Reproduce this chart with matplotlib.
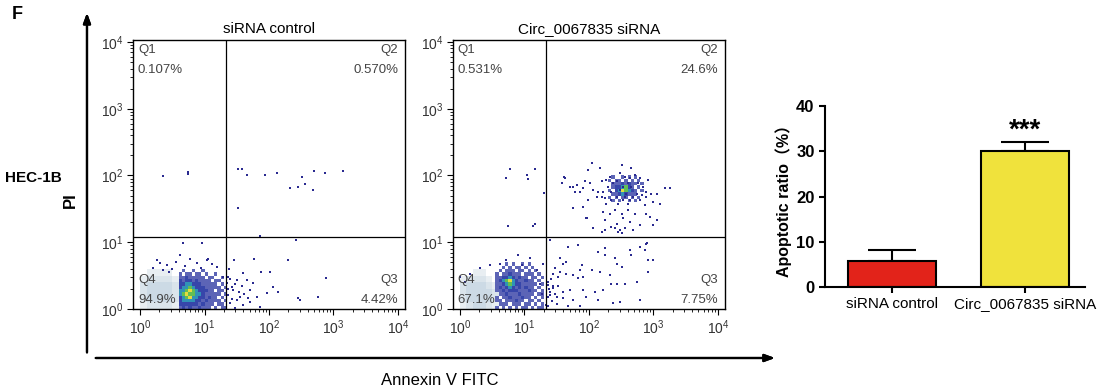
import numpy as np
import matplotlib.pyplot as plt
from matplotlib.colors import ListedColormap, BoundaryNorm
from matplotlib.ticker import FixedLocator, NullFormatter

plt.rcParams['font.family'] = ['Liberation Sans', 'DejaVu Sans']
plt.rcParams['mathtext.default'] = 'regular'

# ---- flow cytometry data (all values are log10 of intensity) ----
panel_titles = ['siRNA control', 'Circ_0067835 siRNA']
quad_pct = [['0.107%', '0.570%', '4.42%', '94.9%'],
            ['0.531%', '24.6%', '7.75%', '67.1%']]
gate_x = 1.33
gate_y = 1.08

# dense core, 0.05-decade bins, rows listed top -> bottom
ctrl_dense_origin = (0.60, 0.00)
ctrl_dense = ["010010010000000",
              "101101101001000",
              "112111110110010",
              "212212111101100",
              "223322211111010",
              "233432221111101",
              "334543222110110",
              "345443321111101",
              "234533221211010",
              "233332212111101",
              "222222121110110",
              "121211211101011"]

# faint smear at the left edge, 0.1-decade bins, rows top -> bottom
ctrl_pale_origin = (0.00, 0.00)
ctrl_pale = ["011110",
             "122221",
             "233332",
             "233332",
             "233332",
             "122221"]

ctrl_dots_x = [0.36, 0.74, 0.74,
               1.52, 1.58, 1.66, 1.94, 2.12, 2.33, 2.45, 2.51, 2.56, 2.68, 2.70, 2.87, 3.15, 1.52, 1.86, 2.42,
               2.29, 1.77, 2.88, 2.76, 2.45, 2.48, 2.02, 1.88, 2.06, 2.14, 1.97,
               1.46, 1.36, 1.50, 1.60, 1.66, 1.75, 1.71, 1.44, 1.55, 1.81, 1.40, 1.60, 1.86, 1.43, 1.36, 1.50,
               1.67, 1.35, 1.38, 1.42, 1.39, 1.47, 1.53, 1.58, 1.62, 1.70, 1.48, 1.37,
               0.31, 0.42, 0.62, 0.88, 1.04, 1.19, 1.29, 0.67, 0.96, 0.26, 0.78, 1.05, 0.50, 0.55, 0.70, 0.95,
               1.12, 0.20, 0.35, 0.45]
ctrl_dots_y = [1.99, 2.02, 2.05,
               2.10, 2.10, 2.01, 2.01, 2.04, 1.81, 1.83, 1.98, 1.87, 1.78, 2.07, 2.04, 2.07, 1.51, 1.09, 1.03,
               0.73, 0.75, 0.46, 0.18, 0.16, 0.13, 0.55, 0.55, 0.33, 0.25, 0.24,
               0.73, 0.48, 0.43, 0.54, 0.43, 0.39, 0.28, 0.28, 0.18, 0.18, 0.09, 0.06, 0.03, 0.33, 0.21, 0.13,
               0.16, 0.39, 0.60, 0.15, 0.45, 0.38, 0.25, 0.35, 0.22, 0.10, 0.02, 0.30,
               0.69, 0.66, 0.81, 0.69, 0.73, 0.63, 0.48, 0.99, 0.99, 0.73, 0.75, 0.75, 0.60, 0.70, 0.64, 0.62,
               0.68, 0.62, 0.58, 0.56]

si_dense_origin = (0.55, 0.00)
si_dense = ["000101001010000",
            "001010110101000",
            "010111011010100",
            "101121110111010",
            "112232121101101",
            "123453211211010",
            "112343221111101",
            "121232121211010",
            "112122211121101",
            "011211121111011",
            "101121112110101",
            "110111211011010",
            "011101110110101",
            "101010101101011"]

si_pale_origin = (0.00, 0.00)
si_pale = ["001100",
           "122210",
           "233321",
           "233332",
           "233332",
           "123321"]

# Q2 cluster core, 0.05-decade bins, rows top -> bottom
si_q2_origin = (2.30, 1.60)
si_q2 = ["01001010100",
         "10110101010",
         "01112121101",
         "01223421010",
         "10235432101",
         "01123211100",
         "10101101010",
         "01010010100"]

si_dots_x = [0.78, 0.71, 1.04, 1.05, 1.16, 0.74, 1.13, 1.16, 1.30,
             2.04, 2.51, 2.66, 1.99, 2.17, 1.63, 1.58, 1.71, 1.81, 1.86, 1.94, 2.02, 2.07, 2.12, 2.20, 2.27,
             2.33, 2.30, 2.38, 2.43, 2.48, 2.56, 2.64, 2.71, 2.79, 2.76, 2.84, 2.89, 2.97, 2.92, 3.05, 3.18,
             3.26, 3.10, 3.00, 2.87, 2.79, 2.69, 2.61, 2.53, 2.45, 2.35, 2.27, 2.20, 2.22, 2.33, 2.40, 2.51,
             2.61, 2.71, 2.89, 3.05, 3.00, 2.79, 2.64, 2.53, 2.43, 2.35, 2.48, 2.45, 2.51, 2.40, 2.56, 2.20,
             2.07, 1.96, 1.76, 1.91, 1.99, 2.25, 2.69, 2.95, 1.78, 1.91, 2.14, 2.22, 2.35, 2.58, 2.74, 2.82,
             2.89, 2.53, 2.66, 2.61, 2.48, 2.25, 2.43, 2.56, 2.64, 1.61, 1.75, 1.91, 1.97, 2.25,
             1.40, 1.68, 1.83, 2.14, 2.25, 2.25, 2.64, 2.66, 2.79, 2.89, 2.92, 3.00, 2.40, 2.43, 2.51, 2.92,
             1.55, 1.60, 1.65, 1.47, 1.55, 1.45, 1.52, 1.65, 1.76, 1.86, 1.83, 1.89, 1.91, 2.04, 2.17, 2.33,
             2.35, 2.43, 2.56, 2.74, 1.37, 1.45, 1.52, 1.60, 1.71, 1.91, 2.09, 2.22, 1.40, 1.50, 1.60, 1.76,
             1.96, 2.14, 2.38, 2.48, 2.79, 1.34, 1.68, 1.86, 2.90, 2.87, 2.99, 2.79,
             1.36, 1.38, 1.40, 1.42, 1.37, 1.45, 1.50, 1.36, 1.41, 1.47,
             0.90, 1.09, 0.72, 0.47, 0.31, 0.16, 1.29, 1.19, 0.62, 0.96, 1.24, 1.27, 0.08, 0.00]
si_dots_y = [2.10, 1.96, 2.01, 1.95, 2.10, 1.24, 1.24, 1.27, 1.74,
             2.18, 2.16, 2.11, 2.08, 2.11, 1.96, 1.88, 1.83, 1.86, 1.76, 1.91, 1.88, 1.78, 1.68, 1.91, 1.93,
             1.98, 1.83, 1.88, 1.91, 2.03, 1.98, 1.96, 2.01, 1.96, 1.88, 1.83, 1.76, 1.73, 1.93, 1.73, 1.81,
             1.81, 1.58, 1.61, 1.56, 1.63, 1.68, 1.58, 1.63, 1.58, 1.63, 1.58, 1.68, 1.46, 1.43, 1.48, 1.43,
             1.48, 1.43, 1.43, 1.33, 1.26, 1.26, 1.31, 1.36, 1.28, 1.23, 1.18, 1.16, 1.14, 1.21, 1.21, 1.16,
             1.21, 1.36, 1.51, 1.53, 1.63, 1.33, 1.18, 1.38, 1.76, 1.81, 1.76, 1.76, 1.76, 1.73, 1.73, 1.71,
             1.68, 1.83, 1.83, 1.88, 1.78, 1.66, 1.68, 1.68, 1.63, 1.98, 1.83, 1.53, 1.36, 1.18,
             1.03, 0.93, 0.96, 0.86, 0.91, 0.81, 0.88, 0.81, 0.93, 0.98, 0.73, 0.73, 0.76, 0.68, 0.63, 0.56,
             0.76, 0.68, 0.71, 0.61, 0.56, 0.53, 0.48, 0.53, 0.51, 0.58, 0.46, 0.66, 0.48, 0.58, 0.56, 0.51,
             0.38, 0.38, 0.38, 0.41, 0.36, 0.31, 0.34, 0.26, 0.29, 0.29, 0.26, 0.29, 0.21, 0.18, 0.16, 0.14,
             0.18, 0.14, 0.09, 0.11, 0.14, 0.06, 0.04, 0.05, 0.99, 0.88, 0.73, 0.13,
             0.40, 0.30, 0.25, 0.12, 0.18, 0.35, 0.08, 0.05, 0.45, 0.22,
             0.81, 0.76, 0.73, 0.66, 0.61, 0.53, 0.68, 0.58, 0.68, 0.66, 0.38, 0.23, 0.41, 0.48]

# ---- bar chart data ----
bar_labels = ['siRNA control', 'Circ_0067835 siRNA']
bar_values = [5.7, 30.0]
bar_errors = [2.5, 2.0]
bar_colors = ['#e2231a', '#f0e23c']

# colours are the blend of the speckled dots with the white background
dense_cmap = ListedColormap(['#5c64b6', '#3746aa', '#3192b6', '#62be54', '#e4da40'])
dense_norm = BoundaryNorm([0.5, 1.5, 2.5, 3.5, 4.5, 5.5], 5)
pale_cmap = ListedColormap(['#e8eef2', '#dae4eb', '#ccdae5'])
pale_norm = BoundaryNorm([0.5, 1.5, 2.5, 3.5], 3)


def draw_grid(ax, rows, origin, step, cmap, norm, z):
    arr = np.array([[int(c) for c in r] for r in rows[::-1]])
    xe = 10 ** (origin[0] + step * np.arange(arr.shape[1] + 1))
    ye = 10 ** (origin[1] + step * np.arange(arr.shape[0] + 1))
    ax.pcolormesh(xe, ye, np.ma.masked_equal(arr, 0), cmap=cmap, norm=norm,
                  edgecolors='none', zorder=z)


fig = plt.figure(figsize=(11.11, 3.89), dpi=100)

panels = [
    (0.1197, ctrl_pale, ctrl_pale_origin, [(ctrl_dense, ctrl_dense_origin)], ctrl_dots_x, ctrl_dots_y),
    (0.4077, si_pale, si_pale_origin, [(si_dense, si_dense_origin), (si_q2, si_q2_origin)], si_dots_x, si_dots_y),
]

for i, (left, pale, pale_o, denses, dx, dy) in enumerate(panels):
    ax = fig.add_axes([left, 0.2057, 0.2448, 0.6915])
    ax.set_xscale('log')
    ax.set_yscale('log')
    draw_grid(ax, pale, pale_o, 0.1, pale_cmap, pale_norm, 1)
    for rows, org in denses:
        draw_grid(ax, rows, org, 0.05, dense_cmap, dense_norm, 2)
    ax.scatter(10 ** np.array(dx), 10 ** np.array(dy), s=2.2, marker='s', c='#2a2a90',
               linewidths=0, zorder=3)
    ax.axvline(10 ** gate_x, color='black', lw=0.9, zorder=4)
    ax.axhline(10 ** gate_y, color='black', lw=0.9, zorder=4)
    ax.set_xlim(10 ** -0.11, 10 ** 4.11)
    ax.set_ylim(10 ** 0, 10 ** 4.03)

    dec = [1, 10, 100, 1000, 10000]
    minors = [m * d for d in [1, 10, 100, 1000] for m in range(2, 10)]
    for axis in (ax.xaxis, ax.yaxis):
        axis.set_major_locator(FixedLocator(dec))
        axis.set_minor_locator(FixedLocator(minors))
        axis.set_minor_formatter(NullFormatter())
    ax.set_xticklabels(['$10^{%d}$' % k for k in range(5)])
    ax.set_yticklabels(['$10^{%d}$' % k for k in range(5)])
    ax.tick_params(which='major', direction='out', length=4, width=0.8, labelsize=10,
                   labelcolor='#333333', pad=3)
    ax.tick_params(which='minor', direction='out', length=2, width=0.6)
    for s in ax.spines.values():
        s.set_linewidth(1.0)
    ax.set_title(panel_titles[i], fontsize=11, pad=5)

    q = quad_pct[i]
    tk = dict(fontsize=9.5, color='#444444', transform=ax.transAxes, zorder=5)
    ax.text(0.018, 0.985, 'Q1', ha='left', va='top', **tk)
    ax.text(0.018, 0.912, q[0], ha='left', va='top', **tk)
    ax.text(0.975, 0.985, 'Q2', ha='right', va='top', **tk)
    ax.text(0.975, 0.912, q[1], ha='right', va='top', **tk)
    ax.text(0.975, 0.085, 'Q3', ha='right', va='bottom', **tk)
    ax.text(0.975, 0.012, q[2], ha='right', va='bottom', **tk)
    ax.text(0.018, 0.085, 'Q4', ha='left', va='bottom', **tk)
    ax.text(0.018, 0.012, q[3], ha='left', va='bottom', **tk)

# big axis arrows
arrow = dict(arrowstyle='-|>,head_length=0.6,head_width=0.22', color='black', lw=1.6)
fig.add_artist(plt.annotate('', xy=(0.0783, 0.974), xytext=(0.0783, 0.087),
                            xycoords='figure fraction', arrowprops=arrow))
fig.add_artist(plt.annotate('', xy=(0.700, 0.0797), xytext=(0.0837, 0.0797),
                            xycoords='figure fraction', arrowprops=arrow))

fig.text(0.011, 0.962, 'F', fontsize=13, fontweight='bold', va='center')
fig.text(0.030, 0.542, 'HEC-1B', fontsize=11, fontweight='bold', ha='center', va='center')
fig.text(0.063, 0.486, 'PI', fontsize=12, fontweight='bold', rotation=90, ha='center', va='center')
fig.text(0.396, 0.023, 'Annexin V FITC', fontsize=12, ha='center', va='center')

# bar chart
axb = fig.add_axes([0.7426, 0.2622, 0.234, 0.4653])
bx = np.arange(len(bar_labels))
axb.bar(bx, bar_values, width=0.66, color=bar_colors, edgecolor='black', linewidth=1.5, zorder=2)
axb.errorbar(bx, bar_values, yerr=[np.zeros(len(bar_values)), bar_errors], fmt='none',
             ecolor='black', elinewidth=1.5, capsize=17, capthick=1.5, zorder=1)
axb.text(bx[1], bar_values[1] + bar_errors[1] - 0.3, '***', ha='center', va='bottom',
         fontsize=20, fontweight='bold')
axb.set_xlim(-0.5, 1.45)
axb.set_ylim(0, 40)
axb.set_yticks([0, 10, 20, 30, 40])
axb.set_xticks(bx)
axb.set_xticklabels(bar_labels, fontsize=11)
for t in axb.get_yticklabels():
    t.set_fontweight('bold')
axb.tick_params(axis='y', labelsize=12, direction='out', length=4, width=1.5)
axb.tick_params(axis='x', direction='out', length=4, width=1.5, pad=3)
axb.spines['top'].set_visible(False)
axb.spines['right'].set_visible(False)
axb.spines['left'].set_linewidth(1.5)
axb.spines['bottom'].set_linewidth(1.5)
axb.set_ylabel('Apoptotic ratio（%）', fontsize=11.5, fontweight='bold',
               family=['Liberation Sans', 'Noto Sans CJK SC'], labelpad=3)

fig.savefig('out.png', dpi=100)
